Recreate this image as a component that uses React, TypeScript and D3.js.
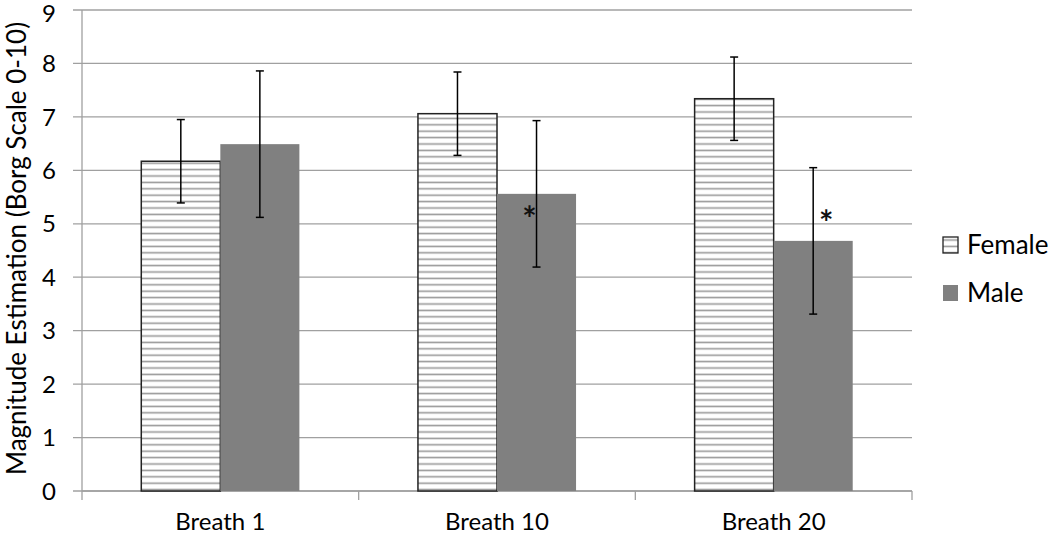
import * as d3 from "d3";

const categories = ["Breath 1", "Breath 10", "Breath 20"];
const seriesNames = ["Female", "Male"];
const femaleMeans = [6.17, 7.06, 7.34];
const maleMeans = [6.49, 5.56, 4.68];
const femaleErr = [0.78, 0.78, 0.78];
const maleErr = [1.37, 1.37, 1.37];
const yTicks = [0, 1, 2, 3, 4, 5, 6, 7, 8, 9];
// asterisks mark male bars that differ, placed at these values
const starCats = ["Breath 10", "Breath 20"];
const starValues = [5.26, 5.18];

const W = 1050;
const H = 537;
const font = "Lato, 'Open Sans', sans-serif";

export default function App() {
  const left = 82;
  const right = 912;
  const top = 10;
  const bottom = 491;

  const y = d3.scaleLinear().domain([0, 9]).range([bottom, top]);
  const x0 = d3.scaleBand<string>().domain(categories).range([left, right]);
  const bw = x0.bandwidth();
  const bar = bw / 3.5; // gap width 150%
  const x1 = d3
    .scaleBand<string>()
    .domain(seriesNames)
    .range([bar * 0.75, bw - bar * 0.75]);

  const rows = categories.map((c, i) => ({
    cat: c,
    vals: [
      { s: "Female", v: femaleMeans[i], e: femaleErr[i] },
      { s: "Male", v: maleMeans[i], e: maleErr[i] },
    ],
  }));

  const grid = "#a0a0a0";

  return (
    <div style={{ position: "absolute", left: 0, top: 0 }}>
      <svg width={W} height={H} style={{ display: "block", background: "#fff" }}>
        <defs>
          <pattern id="hatch" patternUnits="userSpaceOnUse" width={8} height={6.4}>
            <rect width={8} height={6.4} fill="#fff" />
            <line x1={0} x2={8} y1={3.2} y2={3.2} stroke="#999" strokeWidth={1.6} />
          </pattern>
        </defs>

        {/* gridlines */}
        {yTicks.map((t) => (
          <line
            key={t}
            x1={left - 9}
            x2={right}
            y1={y(t)}
            y2={y(t)}
            stroke={grid}
            strokeWidth={1.3}
          />
        ))}
        {yTicks.map((t) => (
          <text
            key={"l" + t}
            x={56}
            y={Math.max(y(t), 13)}
            dy="0.36em"
            textAnchor="end"
            fontFamily={font}
            fontSize={24}
            fill="#000"
          >
            {t}
          </text>
        ))}

        {/* axes */}
        <line x1={left} x2={left} y1={top} y2={bottom} stroke={grid} strokeWidth={1.3} />
        <line x1={left} x2={right} y1={bottom} y2={bottom} stroke={grid} strokeWidth={1.3} />
        {[...categories.map((c) => x0(c)!), right].map((xx, i) => (
          <line key={"t" + i} x1={xx} x2={xx} y1={bottom} y2={bottom + 9} stroke={grid} strokeWidth={1.3} />
        ))}
        {categories.map((c) => (
          <text
            key={"c" + c}
            x={x0(c)! + bw / 2}
            y={530}
            textAnchor="middle"
            fontFamily={font}
            fontSize={24}
            fill="#000"
          >
            {c}
          </text>
        ))}

        {/* bars */}
        {rows.map((r) =>
          r.vals.map((d) => {
            const bx = x0(r.cat)! + x1(d.s)!;
            const female = d.s === "Female";
            return (
              <rect
                key={r.cat + d.s}
                x={bx}
                y={y(d.v)}
                width={x1.bandwidth()}
                height={y(0) - y(d.v)}
                fill={female ? "url(#hatch)" : "#808080"}
                stroke={female ? "#222" : "none"}
                strokeWidth={1.5}
              />
            );
          })
        )}

        {/* error bars */}
        {rows.map((r) =>
          r.vals.map((d) => {
            const cx = x0(r.cat)! + x1(d.s)! + x1.bandwidth() / 2;
            const y1 = y(d.v + d.e);
            const y2 = y(d.v - d.e);
            return (
              <g key={"e" + r.cat + d.s} stroke="#000" strokeWidth={1.5}>
                <line x1={cx} x2={cx} y1={y1} y2={y2} />
                <line x1={cx - 4} x2={cx + 4} y1={y1} y2={y1} />
                <line x1={cx - 4} x2={cx + 4} y1={y2} y2={y2} />
              </g>
            );
          })
        )}

        {/* significance marks */}
        {starCats.map((c, i) => {
          const cx = x0(c)! + x1("Male")! + x1.bandwidth() / 2;
          const dx = i === 0 ? -7 : 13;
          return (
            <text
              key={"s" + c}
              x={cx + dx}
              y={y(starValues[i])}
              dy="0.62em"
              textAnchor="middle"
              fontFamily={font}
              fontWeight="bold"
              fontSize={34}
              fill="#111"
            >
              *
            </text>
          );
        })}

        {/* y title */}
        <text
          transform={`translate(26,${(top + bottom) / 2 - 2}) rotate(-90)`}
          textAnchor="middle"
          fontFamily={font}
          fontSize={26}
          fill="#000"
        >
          Magnitude Estimation (Borg Scale 0-10)
        </text>

        {/* legend */}
        {seriesNames.map((s, i) => {
          const ly = 237 + i * 48;
          const female = s === "Female";
          return (
            <g key={"lg" + s}>
              <rect
                x={943}
                y={ly}
                width={15}
                height={16}
                fill={female ? "url(#hatch)" : "#808080"}
                stroke={female ? "#222" : "none"}
                strokeWidth={1.3}
              />
              <text x={967} y={ly + 8} dy="0.36em" fontFamily={font} fontSize={26} fill="#000">
                {s}
              </text>
            </g>
          );
        })}
      </svg>
    </div>
  );
}
